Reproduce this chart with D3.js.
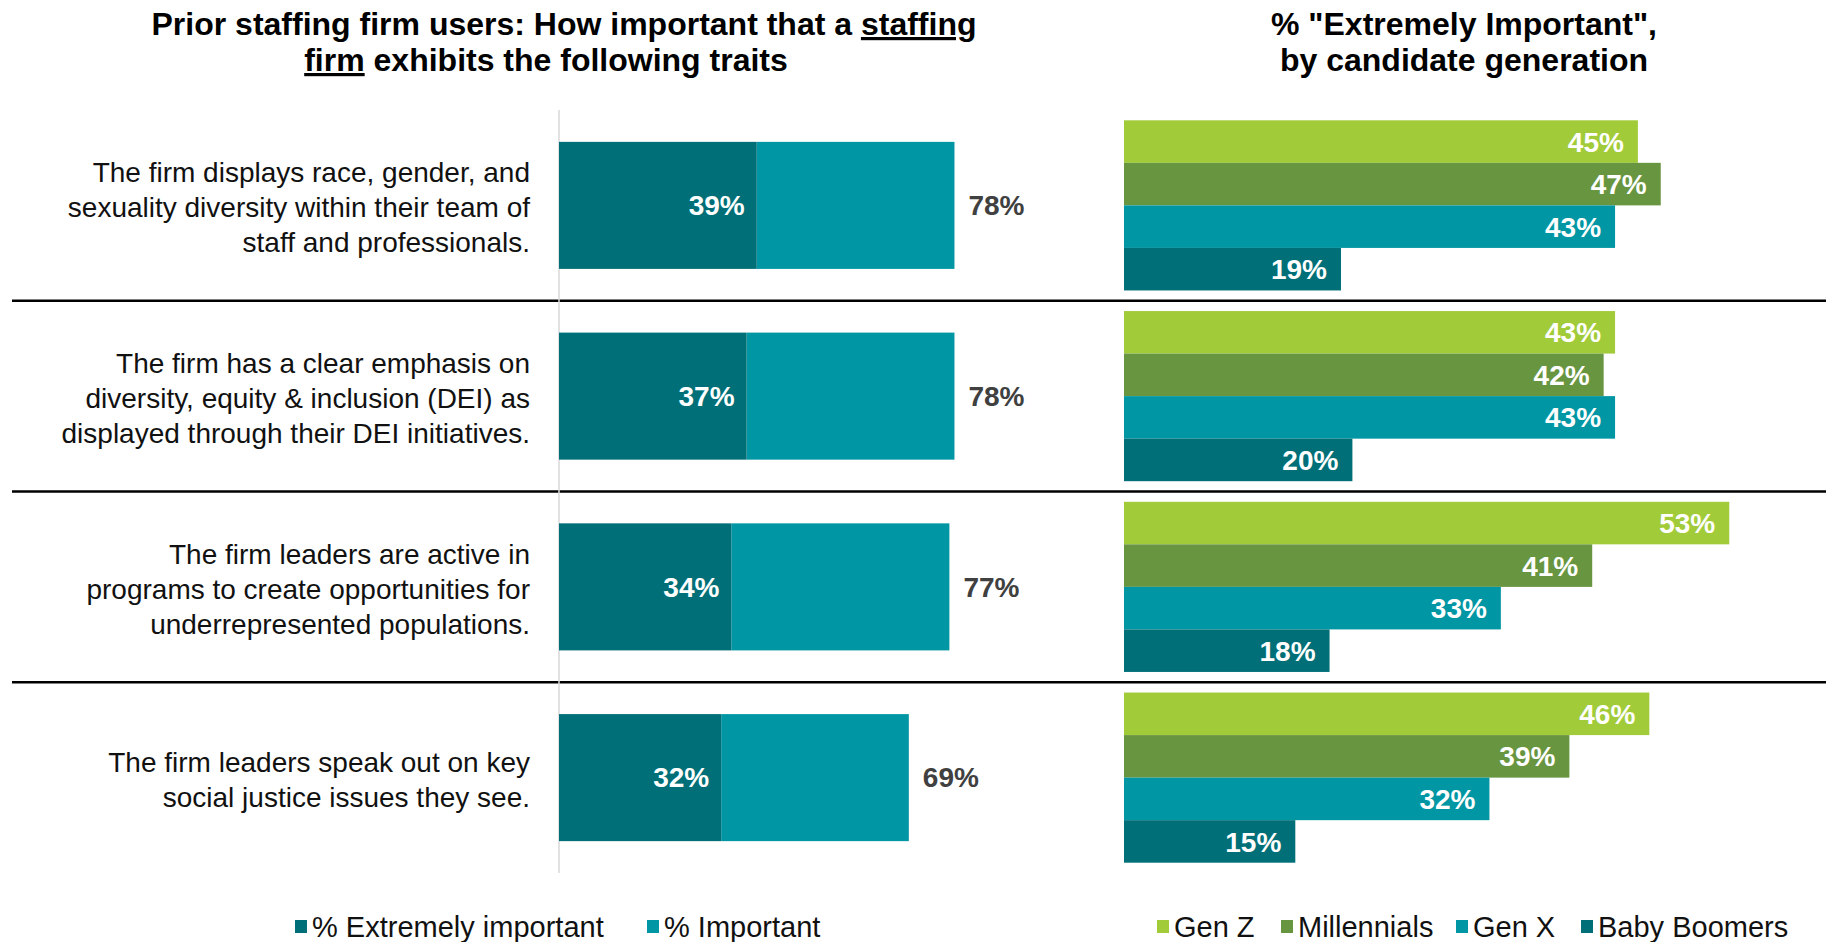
<!DOCTYPE html>
<html lang="en">
<head>
    <meta charset="UTF-8">
    <title>Staffing firm traits</title>
    <script src="https://d3js.org/d3.v7.min.js"></script>
    <style>
        body {
            margin: 0;
            background: #fff;
            font-family: "Liberation Sans", Arial, sans-serif;
        }
        svg text {
            font-family: "Liberation Sans", Arial, sans-serif;
        }
        .title {
            font-size: 32px;
            font-weight: bold;
            fill: #000;
        }
        .cat-label {
            font-size: 28px;
            fill: #111;
        }
        .val {
            font-size: 28px;
            font-weight: bold;
        }
        .legend-text {
            font-size: 29px;
            fill: #111;
        }
    </style>
</head>
<body>
    <svg id="chart" width="1826" height="942"></svg>

    <script>
        // Data
        const traits = [
            ["The firm displays race, gender, and", "sexuality diversity within their team of", "staff and professionals."],
            ["The firm has a clear emphasis on", "diversity, equity & inclusion (DEI) as", "displayed through their DEI initiatives."],
            ["The firm leaders are active in", "programs to create opportunities for", "underrepresented populations."],
            ["The firm leaders speak out on key", "social justice issues they see."]
        ];
        const extremelyImportant = [39, 37, 34, 32];
        const totalImportant = [78, 78, 77, 69];

        const generations = ["Gen Z", "Millennials", "Gen X", "Baby Boomers"];
        const genZ = [45, 43, 53, 46];
        const millennials = [47, 42, 41, 39];
        const genX = [43, 43, 33, 32];
        const babyBoomers = [19, 20, 18, 15];

        const leftLegend = ["% Extremely important", "% Important"];

        // Colours
        const darkTeal = "#006f77", teal = "#0096a3", lime = "#a2cb3a", olive = "#68953f";
        const genColor = d3.scaleOrdinal().domain(generations).range([lime, olive, teal, darkTeal]);

        const svg = d3.select("#chart");
        const width = 1826;

        // Scales
        const rowIdx = d3.range(traits.length);
        const y = d3.scaleBand().domain(rowIdx).range([110, 873]).padding(0);
        const xLeft = d3.scaleLinear().domain([0, 100]).range([559, 559 + 507]);
        const xRight = d3.scaleLinear().domain([0, 100]).range([1124, 1124 + 1142]);

        const barH = y.bandwidth() * 0.666;
        const groupH = y.bandwidth() * 0.892;
        const ySub = d3.scaleBand().domain(generations).range([0, groupH]).padding(0);

        // Titles
        const t1 = svg.append("text").attr("class", "title").attr("text-anchor", "middle");
        t1.append("tspan").attr("x", 564).attr("y", 35).text("Prior staffing firm users: How important that a ");
        t1.append("tspan").style("text-decoration", "underline").text("staffing");
        const t2 = svg.append("text").attr("class", "title").attr("text-anchor", "middle");
        t2.append("tspan").attr("x", 546).attr("y", 71).style("text-decoration", "underline").text("firm");
        t2.append("tspan").text(" exhibits the following traits");

        svg.append("text").attr("class", "title").attr("text-anchor", "middle")
            .attr("x", 1464).attr("y", 35).text('% "Extremely Important",');
        svg.append("text").attr("class", "title").attr("text-anchor", "middle")
            .attr("x", 1464).attr("y", 71).text("by candidate generation");

        // Row separators
        svg.selectAll(".sep")
            .data(rowIdx.slice(1))
            .enter()
            .append("line")
            .attr("class", "sep")
            .attr("x1", 12).attr("x2", width)
            .attr("y1", d => y(d)).attr("y2", d => y(d))
            .attr("stroke", "#000")
            .attr("stroke-width", 2.5);

        // Left axis line
        svg.append("line")
            .attr("x1", xLeft(0)).attr("x2", xLeft(0))
            .attr("y1", y.range()[0]).attr("y2", y.range()[1])
            .attr("stroke", "#d9d9d9")
            .attr("stroke-width", 1.5);

        // Category labels
        rowIdx.forEach(i => {
            const lines = traits[i];
            const cy = y(i) + y.bandwidth() / 2 + 2;
            const lh = 35;
            const txt = svg.append("text")
                .attr("class", "cat-label")
                .attr("text-anchor", "end");
            lines.forEach((line, j) => {
                txt.append("tspan")
                    .attr("x", 530)
                    .attr("y", cy + (j - (lines.length - 1) / 2) * lh)
                    .attr("dy", "0.35em")
                    .text(line);
            });
        });

        // Left stacked bars
        const left = svg.append("g");
        left.selectAll(".light")
            .data(rowIdx)
            .enter()
            .append("rect")
            .attr("x", d => xLeft(extremelyImportant[d]))
            .attr("y", d => y(d) + (y.bandwidth() - barH) / 2)
            .attr("width", d => xLeft(totalImportant[d]) - xLeft(extremelyImportant[d]))
            .attr("height", barH)
            .attr("fill", teal);
        left.selectAll(".dark")
            .data(rowIdx)
            .enter()
            .append("rect")
            .attr("x", xLeft(0))
            .attr("y", d => y(d) + (y.bandwidth() - barH) / 2)
            .attr("width", d => xLeft(extremelyImportant[d]) - xLeft(0))
            .attr("height", barH)
            .attr("fill", darkTeal);

        left.selectAll(".inlabel")
            .data(rowIdx)
            .enter()
            .append("text")
            .attr("class", "val")
            .attr("x", d => xLeft(extremelyImportant[d]) - 12)
            .attr("y", d => y(d) + y.bandwidth() / 2)
            .attr("dy", "0.35em")
            .attr("text-anchor", "end")
            .attr("fill", "#fff")
            .text(d => extremelyImportant[d] + "%");

        left.selectAll(".outlabel")
            .data(rowIdx)
            .enter()
            .append("text")
            .attr("class", "val")
            .attr("x", d => xLeft(totalImportant[d]) + 14)
            .attr("y", d => y(d) + y.bandwidth() / 2)
            .attr("dy", "0.35em")
            .attr("fill", "#404040")
            .text(d => totalImportant[d] + "%");

        // Right grouped bars
        const genValues = { "Gen Z": genZ, "Millennials": millennials, "Gen X": genX, "Baby Boomers": babyBoomers };
        rowIdx.forEach(i => {
            const g = svg.append("g")
                .attr("transform", `translate(0,${y(i) + (y.bandwidth() - groupH) / 2})`);
            g.selectAll("rect")
                .data(generations)
                .enter()
                .append("rect")
                .attr("x", xRight(0))
                .attr("y", d => ySub(d))
                .attr("width", d => xRight(genValues[d][i]) - xRight(0))
                .attr("height", ySub.bandwidth())
                .attr("fill", d => genColor(d));
            g.selectAll("text")
                .data(generations)
                .enter()
                .append("text")
                .attr("class", "val")
                .attr("x", d => xRight(genValues[d][i]) - 14)
                .attr("y", d => ySub(d) + ySub.bandwidth() / 2)
                .attr("dy", "0.36em")
                .attr("text-anchor", "end")
                .attr("fill", "#fff")
                .text(d => genValues[d][i] + "%");
        });

        // Legends
        function legend(items, colors, xs) {
            items.forEach((name, k) => {
                svg.append("rect")
                    .attr("x", xs[k]).attr("y", 920)
                    .attr("width", 12).attr("height", 13)
                    .attr("fill", colors[k]);
                svg.append("text")
                    .attr("class", "legend-text")
                    .attr("x", xs[k] + 17).attr("y", 927)
                    .attr("dy", "0.35em")
                    .text(name);
            });
        }
        legend(leftLegend, [darkTeal, teal], [295, 647]);
        legend(generations, generations.map(genColor), [1157, 1281, 1456, 1581]);
    </script>
</body>
</html>
